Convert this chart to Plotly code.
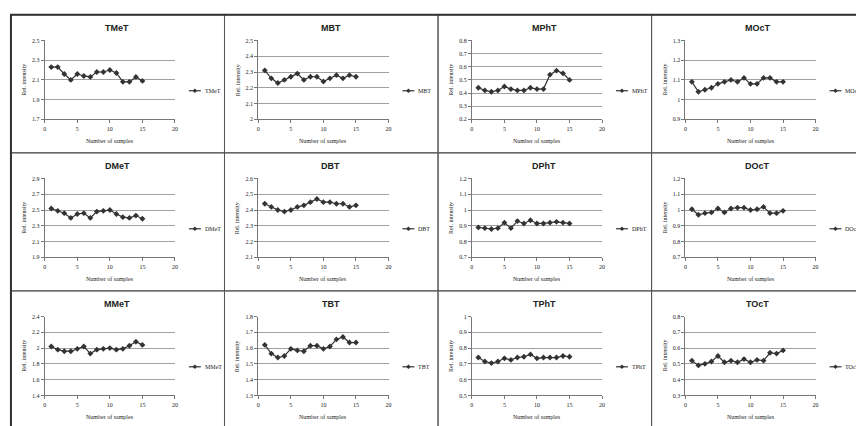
import plotly.graph_objects as go

# x values shared by every panel
samples = list(range(1, 16))

# compound names, panel order left-to-right, top-to-bottom
names = ["TMeT", "MBT", "MPhT", "MOcT",
         "DMeT", "DBT", "DPhT", "DOcT",
         "MMeT", "TBT", "TPhT", "TOcT"]

# relative intensity series
tmet = [2.23, 2.23, 2.16, 2.10, 2.16, 2.14, 2.13, 2.18, 2.18, 2.20, 2.17, 2.08, 2.08, 2.13, 2.09]
mbt = [2.31, 2.26, 2.23, 2.25, 2.27, 2.29, 2.25, 2.27, 2.27, 2.24, 2.26, 2.28, 2.26, 2.28, 2.27]
mpht = [0.44, 0.42, 0.41, 0.42, 0.45, 0.43, 0.42, 0.42, 0.44, 0.43, 0.43, 0.54, 0.57, 0.55, 0.50]
moct = [1.09, 1.04, 1.05, 1.06, 1.08, 1.09, 1.10, 1.09, 1.11, 1.08, 1.08, 1.11, 1.11, 1.09, 1.09]
dmet = [2.52, 2.49, 2.46, 2.40, 2.45, 2.46, 2.40, 2.48, 2.49, 2.50, 2.45, 2.41, 2.40, 2.43, 2.39]
dbt = [2.44, 2.42, 2.40, 2.39, 2.40, 2.42, 2.43, 2.45, 2.47, 2.45, 2.45, 2.44, 2.44, 2.42, 2.43]
dpht = [0.89, 0.885, 0.88, 0.885, 0.92, 0.885, 0.93, 0.915, 0.935, 0.915, 0.915, 0.92, 0.925, 0.92, 0.915]
doct = [1.005, 0.97, 0.98, 0.985, 1.01, 0.985, 1.01, 1.015, 1.015, 1.0, 1.005, 1.02, 0.98, 0.98, 0.995]
mmet = [2.02, 1.98, 1.96, 1.96, 1.99, 2.02, 1.93, 1.98, 1.99, 2.00, 1.98, 1.99, 2.03, 2.08, 2.04]
tbt = [1.62, 1.565, 1.54, 1.55, 1.595, 1.585, 1.58, 1.615, 1.615, 1.595, 1.61, 1.655, 1.67, 1.635, 1.635]
tpht = [0.74, 0.715, 0.705, 0.715, 0.735, 0.725, 0.74, 0.745, 0.76, 0.735, 0.74, 0.74, 0.74, 0.75, 0.745]
toct = [0.52, 0.49, 0.50, 0.515, 0.55, 0.51, 0.52, 0.51, 0.53, 0.51, 0.525, 0.52, 0.57, 0.565, 0.585]

series = [tmet, mbt, mpht, moct, dmet, dbt, dpht, doct, mmet, tbt, tpht, toct]

# y-axis ranges and tick steps
y_min = [1.7, 2.0, 0.2, 0.9, 1.9, 2.1, 0.7, 0.7, 1.4, 1.3, 0.5, 0.3]
y_max = [2.5, 2.5, 0.8, 1.3, 2.9, 2.6, 1.2, 1.2, 2.4, 1.8, 1.0, 0.8]
y_step = [0.2, 0.1, 0.1, 0.1, 0.2, 0.1, 0.1, 0.1, 0.2, 0.1, 0.1, 0.1]

x_ticks = [0, 5, 10, 15, 20]

W, H = 856, 426
PANEL_W, PANEL_H = 214.8, 140
LEFT, TOP = 9, 12

SERIF = "Liberation Serif, Times New Roman, serif"
SANS = "Liberation Sans, Arial, sans-serif"
INK = "#333333"


def px(x):
    return x / W


def py(y):
    return 1 - y / H


fig = go.Figure()
shapes = []
annotations = []

for i, (name, vals) in enumerate(zip(names, series)):
    r, c = divmod(i, 4)
    k = "" if i == 0 else str(i + 1)
    X0 = LEFT + PANEL_W * c
    Y0 = TOP + PANEL_H * r
    pl, pr = X0 + 34, X0 + 165
    pt, pb = Y0 + 26, Y0 + 106

    fig.add_trace(go.Scatter(
        x=samples, y=vals, name=name,
        xaxis="x" + k, yaxis="y" + k,
        mode="lines+markers",
        line=dict(color=INK, width=1.2),
        marker=dict(symbol="diamond", size=4.5, color=INK),
        showlegend=False,
    ))

    fig.layout["xaxis" + k] = dict(
        domain=[px(pl), px(pr)], anchor="y" + k,
        range=[0, 20], tickvals=x_ticks,
        showgrid=False, zeroline=False,
        showline=True, linecolor="#777777", linewidth=1,
        ticks="outside", ticklen=3, tickcolor="#777777",
        tickfont=dict(family=SERIF, size=6, color="#222222"),
        fixedrange=True,
    )
    fig.layout["yaxis" + k] = dict(
        domain=[py(pb), py(pt)], anchor="x" + k,
        range=[y_min[i], y_max[i]],
        tick0=y_min[i], dtick=y_step[i],
        showgrid=True, gridcolor="#a0a0a0", gridwidth=1,
        zeroline=False,
        showline=True, linecolor="#777777", linewidth=1,
        ticks="outside", ticklen=3, tickcolor="#777777",
        tickfont=dict(family=SERIF, size=6, color="#222222"),
        fixedrange=True,
    )

    # chart frame
    shapes.append(dict(type="rect", xref="paper", yref="paper",
                       x0=px(X0), x1=px(X0 + PANEL_W),
                       y0=py(Y0 + PANEL_H), y1=py(Y0),
                       line=dict(color="#555555", width=1)))

    # chart title
    annotations.append(dict(text="<b>%s</b>" % name, xref="paper", yref="paper",
                            x=px(X0 + 107), y=py(Y0 + 13),
                            xanchor="center", yanchor="middle", showarrow=False,
                            font=dict(family=SANS, size=9, color="#222222")))
    # axis titles
    annotations.append(dict(text="Rel. intensity", xref="paper", yref="paper",
                            x=px(X0 + 13), y=py((pt + pb) / 2), textangle=-90,
                            xanchor="center", yanchor="middle", showarrow=False,
                            font=dict(family=SERIF, size=6, color="#222222")))
    annotations.append(dict(text="Number of samples", xref="paper", yref="paper",
                            x=px((pl + pr) / 2), y=py(Y0 + 128),
                            xanchor="center", yanchor="middle", showarrow=False,
                            font=dict(family=SERIF, size=6, color="#222222")))

    # legend key: short line with a diamond, then the series name
    ly = Y0 + 77
    shapes.append(dict(type="line", xref="paper", yref="paper",
                       x0=px(X0 + 179), x1=px(X0 + 191), y0=py(ly), y1=py(ly),
                       line=dict(color=INK, width=1.2)))
    cx, d = X0 + 185, 2.3
    shapes.append(dict(type="path", xref="paper", yref="paper",
                       path="M %f %f L %f %f L %f %f L %f %f Z" % (
                           px(cx - d), py(ly), px(cx), py(ly - d),
                           px(cx + d), py(ly), px(cx), py(ly + d)),
                       fillcolor=INK, line=dict(color=INK, width=0)))
    annotations.append(dict(text=name, xref="paper", yref="paper",
                            x=px(X0 + 193), y=py(ly),
                            xanchor="left", yanchor="middle", showarrow=False,
                            font=dict(family=SERIF, size=6, color="#222222")))

# outer frame around the whole grid
shapes.append(dict(type="rect", xref="paper", yref="paper",
                   x0=px(LEFT), x1=px(LEFT + 4 * PANEL_W),
                   y0=py(TOP + 3 * PANEL_H), y1=py(TOP),
                   line=dict(color="#333333", width=2)))

fig.update_layout(
    width=W, height=H,
    margin=dict(l=0, r=0, t=0, b=0),
    paper_bgcolor="white", plot_bgcolor="white",
    shapes=shapes, annotations=annotations,
    showlegend=False,
)

fig.write_html("out.html")
